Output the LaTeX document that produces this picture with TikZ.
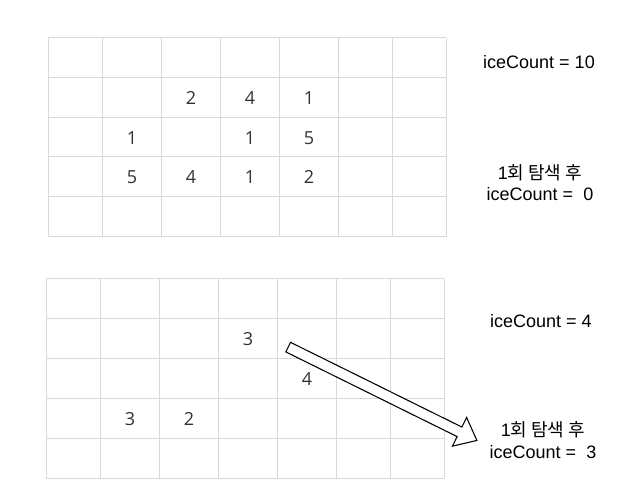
\documentclass[tikz,border=0pt]{standalone}
\usepackage{fontspec}
\setmainfont{Liberation Sans}
\newfontfamily\numfont{Open Sans}
\newfontfamily\kofont{Noto Sans CJK KR}
\usepackage{tikz}
\usetikzlibrary{shapes, arrows, calc}
\definecolor{gridgray}{HTML}{D9D9D9}
\definecolor{numgray}{HTML}{333333}
\tikzstyle{gridline} = [draw=gridgray, line width=0.75pt]
\tikzstyle{num} = [font=\numfont\fontsize{13.5}{16}\selectfont, text=numgray, inner sep=0pt]
\tikzstyle{count} = [font=\fontsize{13.5}{16}\selectfont, align=center, inner sep=0pt]
\tikzstyle{blockarrow} = [draw=black, fill=white, line width=0.8pt, single arrow, inner xsep=0pt, inner ysep=3.6pt, single arrow head extend=8pt, single arrow tip angle=79, minimum height=157.9pt]

\begin{document}
\begin{tikzpicture}[x=0.75pt, y=-0.75pt]
                    \useasboundingbox (0, 0) rectangle (633, 484);
                    % first board
                    \draw[gridline] (48, 38) -- (48, 237) (102, 38) -- (102, 237) (161, 38) -- (161, 237) (220, 38) -- (220, 237);
                    \draw[gridline] (279, 38) -- (279, 237) (338, 38) -- (338, 237) (392, 38) -- (392, 237) (446, 38) -- (446, 237);
                    \draw[gridline] (48, 38) -- (446, 38) (48, 78) -- (446, 78) (48, 118) -- (446, 118);
                    \draw[gridline] (48, 157) -- (446, 157) (48, 197) -- (446, 197) (48, 237) -- (446, 237);
                    \node[num] (b1a) at (191, 98) {2};
                    \node[num] (b1b) at (250, 98) {4};
                    \node[num] (b1c) at (309, 98) {1};
                    \node[num] (b1d) at (132, 138) {1};
                    \node[num] (b1e) at (250, 138) {1};
                    \node[num] (b1f) at (309, 138) {5};
                    \node[num] (b1g) at (132, 177) {5};
                    \node[num] (b1h) at (191, 177) {4};
                    \node[num] (b1i) at (250, 177) {1};
                    \node[num] (b1j) at (309, 177) {2};
                    \node[count] (count1) at (539, 62) {iceCount = 10};
                    \node[count] (after1) at (540, 182.5) {1{\kofont 회 탐색 후}\\ iceCount =~ 0};
                    % second board
                    \draw[gridline] (46, 279) -- (46, 479) (100, 279) -- (100, 479) (159, 279) -- (159, 479) (218, 279) -- (218, 479);
                    \draw[gridline] (277, 279) -- (277, 479) (336, 279) -- (336, 479) (390, 279) -- (390, 479) (444, 279) -- (444, 479);
                    \draw[gridline] (46, 279) -- (444, 279) (46, 319) -- (444, 319) (46, 359) -- (444, 359);
                    \draw[gridline] (46, 399) -- (444, 399) (46, 439) -- (444, 439) (46, 479) -- (444, 479);
                    \node[num] (b2a) at (248, 339) {3};
                    \node[num] (b2b) at (307, 379) {4};
                    \node[num] (b2c) at (130, 419) {3};
                    \node[num] (b2d) at (189, 419) {2};
                    \node[count] (count2) at (541, 321) {iceCount = 4};
                    \node[count] (after2) at (543, 440) {1{\kofont 회 탐색 후}\\ iceCount =~ 3};
                    \coordinate (arrtail) at (285.3, 345.7);
                    \coordinate (arrtip) at (474, 439);
                    \path (arrtail) -- (arrtip) node[blockarrow, midway, sloped] (jump) {};
                \end{tikzpicture}
\end{document}
